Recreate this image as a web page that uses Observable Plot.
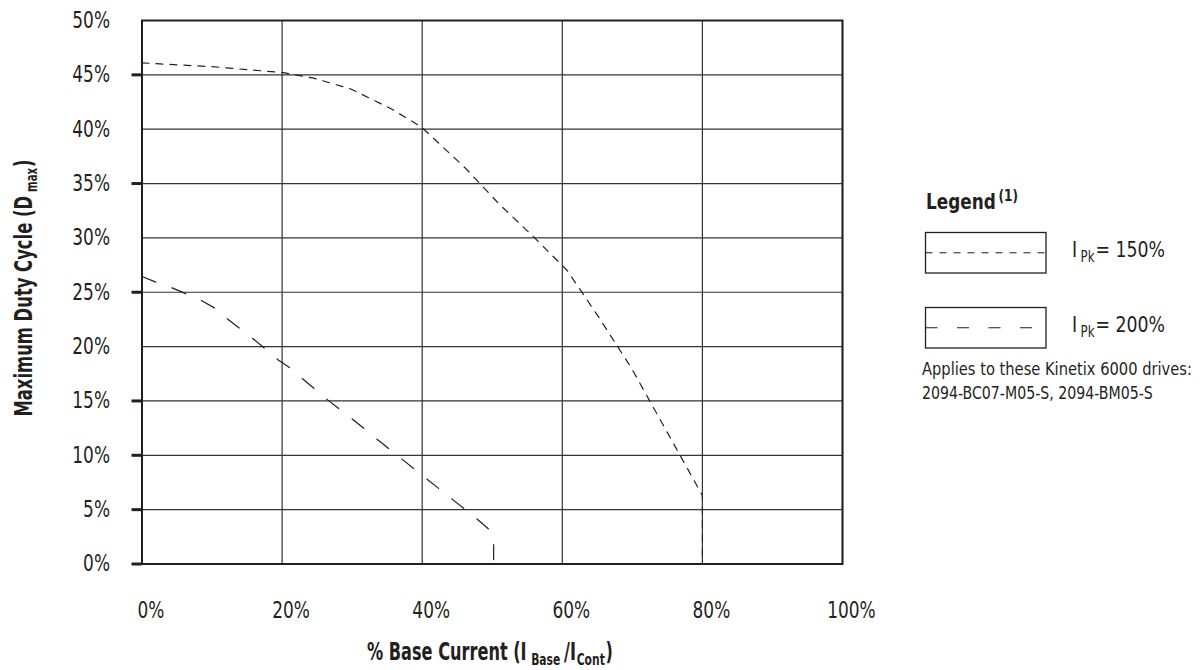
<!DOCTYPE html>
<html>
<head>
<meta charset="utf-8">
<script src="https://cdn.jsdelivr.net/npm/d3@7"></script>
<script src="https://cdn.jsdelivr.net/npm/@observablehq/plot@0.6"></script>
<style>
  body { margin: 0; background: #fff; }
  #wrap { position: relative; width: 1201px; height: 670px; overflow: hidden; background: #fff; }
  #wrap svg { position: absolute; left: 0; top: 0; }
</style>
</head>
<body>
<div id="wrap"></div>
<script>
// ---- data ----
const xTicks = [0, 20, 40, 60, 80, 100];
const yTicks = [0, 5, 10, 15, 20, 25, 30, 35, 40, 45, 50];
const yTickMarks = [0, 5, 10, 15, 25, 35, 45];

// I Pk = 150 % curve (short dashes)
const pk150X = [0, 10, 20.2, 24.5, 29.8, 35.5, 39.9, 46.2, 51, 55.9, 60.7, 65, 69.8, 74.3, 78.8, 80, 80];
const pk150Y = [46.1, 45.75, 45.2, 44.7, 43.7, 41.9, 40.2, 36.4, 33.1, 30.1, 27.0, 22.9, 18.1, 12.9, 7.7, 6.3, 0];

// I Pk = 200 % curve (long dashes)
const pk200X = [0, 2.1, 4.3, 6.5, 8.6, 10.5, 12.3, 14.1, 15.9, 17.6, 19.4, 21.2, 23, 26.5, 30.1, 33.7, 37.2, 40.7, 44.4, 47.9, 49.6, 50.2, 50.2];
const pk200Y = [26.45, 25.9, 25.4, 24.8, 24.2, 23.5, 22.5, 21.6, 20.7, 19.8, 18.8, 18.0, 17.0, 15.1, 13.3, 11.4, 9.6, 7.8, 5.9, 4.1, 3.15, 2.0, 0];

const seriesLabels = ["150%", "200%"];

// ---- build ----
const ink = "#231f20";
const font = '"Liberation Sans Narrow", "DejaVu Sans Condensed", Roboto, sans-serif';
const rows150 = pk150X.map((x, i) => ({x, y: pk150Y[i]}));
const rows200 = pk200X.map((x, i) => ({x, y: pk200Y[i]}));
const pct = d => d + "%";

const chart = Plot.plot({
  width: 1201,
  height: 670,
  marginLeft: 141.5,
  marginRight: 359,
  marginTop: 20,
  marginBottom: 106.5,
  x: {domain: [0, 100]},
  y: {domain: [0, 50]},
  style: {fontFamily: font, color: ink, background: "transparent", overflow: "visible"},
  marks: [
    Plot.gridX(xTicks, {stroke: "#333", strokeOpacity: 1, strokeWidth: 1.2}),
    Plot.gridY(yTicks, {stroke: "#333", strokeOpacity: 1, strokeWidth: 1.2}),
    Plot.axisX(xTicks, {tickSize: 0, tickPadding: 38, tickFormat: pct, fontSize: 23, dx: 9, label: null}),
    Plot.axisY(yTicks, {tickSize: 0, tickPadding: 32, tickFormat: pct, fontSize: 23, label: null}),
    Plot.axisY(yTickMarks, {tickSize: 10, strokeWidth: 3, stroke: ink, tickFormat: () => "", label: null}),
    Plot.frame({stroke: ink, strokeWidth: 2}),
    Plot.line(rows150, {x: "x", y: "y", stroke: ink, strokeWidth: 1.2, strokeDasharray: "7,7"}),
    Plot.line(rows200, {x: "x", y: "y", stroke: ink, strokeWidth: 1.2, strokeDasharray: "15,17"})
  ]
});
document.getElementById("wrap").appendChild(chart);

// condense the tick labels horizontally (the reference uses a condensed face)
d3.select(chart).selectAll('g[aria-label$="tick label"] text').each(function () {
  const w = this.getComputedTextLength();
  if (w > 0) {
    this.setAttribute("textLength", (w * 0.82).toFixed(1));
    this.setAttribute("lengthAdjust", "spacingAndGlyphs");
  }
});

// ---- titles & legend overlay ----
const ov = d3.select("#wrap").append("svg")
  .attr("width", 1201).attr("height", 670)
  .style("pointer-events", "none")
  .attr("font-family", font).attr("fill", ink);

// lay out runs of text (with sub/superscripts) naturally inside a group,
// then condense the whole group horizontally to the target width.
function runs(parent, parts, {x = 0, y = 0, anchor = "start", weight = "normal", width}) {
  const g = parent.append("g");
  const els = parts.map(p => g.append("text")
    .attr("font-size", p.size).attr("font-weight", weight).text(p.text));
  const nat = els.map(e => e.node().getComputedTextLength());
  let cx = 0;
  els.forEach((e, i) => {
    e.attr("x", cx.toFixed(1)).attr("y", parts[i].dy || 0);
    cx += nat[i] + (parts[i].gap || 0);
  });
  const total = cx - (parts[parts.length - 1].gap || 0);
  const f = width ? width / total : 1;
  const x0 = anchor === "middle" ? x - (total * f) / 2 : x;
  g.attr("transform", `translate(${x0.toFixed(1)},${y}) scale(${f.toFixed(4)},1)`);
  return g;
}

// y title (rotated)
runs(ov.append("g").attr("transform", "translate(31.5,288) rotate(-90)"), [
  {text: "Maximum Duty Cycle (D", size: 24, gap: 5},
  {text: "max", size: 15, dy: 5, gap: 1},
  {text: ")", size: 24}
], {anchor: "middle", weight: "bold", width: 257});

// x title
runs(ov, [
  {text: "% Base Current (I", size: 24, gap: 6},
  {text: "Base", size: 16, dy: 5, gap: 5},
  {text: "/I", size: 24, gap: 1},
  {text: "Cont", size: 16, dy: 5, gap: 1},
  {text: ")", size: 24}
], {x: 490, y: 660, anchor: "middle", weight: "bold", width: 246});

// legend heading
runs(ov, [
  {text: "Legend", size: 21, gap: 3},
  {text: "(1)", size: 15, dy: -8}
], {x: 926, y: 209, weight: "bold", width: 92});

// legend swatches
const swatches = [
  {top: 232.5, dash: "7,7", label: seriesLabels[0], base: 257},
  {top: 307.5, dash: "12,19.5", label: seriesLabels[1], base: 332}
];
swatches.forEach(s => {
  ov.append("rect").attr("x", 925.5).attr("y", s.top).attr("width", 120.5).attr("height", 40.5)
    .attr("fill", "none").attr("stroke", ink).attr("stroke-width", 1.3);
  ov.append("line").attr("x1", 925.5).attr("x2", 1046).attr("y1", s.top + 20.25).attr("y2", s.top + 20.25)
    .attr("stroke", ink).attr("stroke-width", 1.2).attr("stroke-dasharray", s.dash);
  runs(ov, [
    {text: "I", size: 22, gap: 4},
    {text: "Pk", size: 15, dy: 5, gap: 1},
    {text: "= " + s.label, size: 22}
  ], {x: 1072, y: s.base, width: 93});
});

// note
runs(ov, [{text: "Applies to these Kinetix 6000 drives:", size: 18.5}], {x: 922, y: 375, width: 270});
runs(ov, [{text: "2094-BC07-M05-S, 2094-BM05-S", size: 18.5}], {x: 922, y: 398.5, width: 231});
</script>
</body>
</html>
